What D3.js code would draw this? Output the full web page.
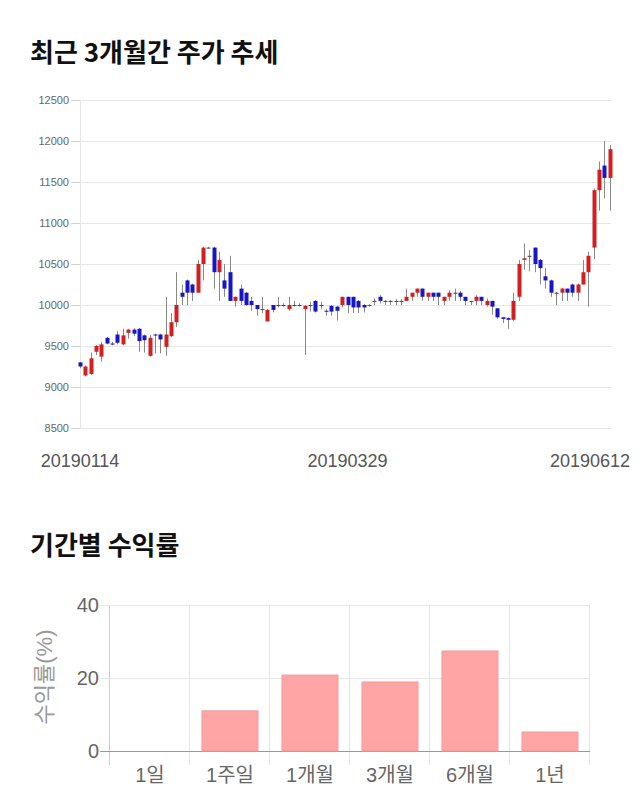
<!DOCTYPE html>
<html><head><meta charset="utf-8">
<script src="https://cdn.jsdelivr.net/npm/d3@7"></script>
<style>body{margin:0;background:#fff}</style>
</head><body>
<svg id="c" width="640" height="810"></svg>
<script>
// ---- candlestick data (daily, 20190114 .. 20190612) ----
const openP  = [9300,9140,9160,9430,9370,9600,9530,9640,9520,9660,
  9700,9710,9630,9380,9640,9640,9490,9620,9790,10150,
  10300,10250,10150,10500,10700,10700,10400,10300,10400,10050,
  10200,10150,10050,10000,9950,9800,10000,10000,10000,9950,
  10000,10000,9950,10000,10050,10000,9930,9990,9980,10000,
  10100,10100,10050,10000,9990,10050,10100,10050,10050,10050,
  10050,10050,10100,10150,10200,10100,10150,10150,10050,10100,
  10150,10150,10100,10050,10050,10100,10000,10050,9960,9850,
  9840,9820,10100,10550,10600,10700,10550,10350,10300,10150,
  10150,10200,10250,10150,10250,10400,10700,11400,11700,11550];
const highP  = [9300,9260,9420,9510,9550,9610,9550,9680,9710,9710,
  9720,9720,9640,9630,9650,9650,10100,9900,10400,10250,
  10310,10260,10550,10710,10710,10710,10650,10500,10600,10100,
  10250,10160,10100,10000,10100,9950,10000,10100,10020,10100,
  10050,10020,10000,10040,10060,10040,9950,10000,9990,10100,
  10100,10100,10060,10010,10010,10080,10120,10060,10060,10070,
  10070,10200,10150,10200,10200,10150,10150,10150,10100,10180,
  10200,10170,10100,10050,10120,10100,10080,10050,9960,9850,
  9850,10150,10550,10750,10670,10700,10560,10450,10310,10160,
  10210,10200,10260,10260,10550,10650,11420,11750,12000,11950];
const lowP   = [9230,9130,9150,9390,9310,9520,9510,9520,9510,9590,
  9620,9430,9420,9370,9410,9410,9380,9610,9730,10000,
  10000,10050,10150,10300,10690,10200,10050,10100,10050,9980,
  10000,9990,9930,9870,9900,9800,9910,9970,9980,9930,
  9980,9980,9390,9920,9910,9950,9870,9870,9810,9970,
  9900,9900,9900,9910,9980,10000,10020,10000,10000,10000,
  10000,10050,10050,10100,10050,10050,10050,10000,10000,10050,
  10050,10050,10000,10000,10000,10000,9980,9880,9830,9780,
  9710,9800,10050,10430,10410,10400,10250,10200,10100,10000,
  10050,10050,10100,10050,10250,9980,10560,11150,11300,11150];
const closeP = [9250,9250,9350,9500,9520,9530,9520,9540,9630,9700,
  9650,9560,9570,9600,9630,9580,9640,9790,10000,10100,
  10150,10150,10500,10700,10700,10400,10550,10200,10050,10100,
  10050,10000,10000,9950,9950,9940,9940,10000,10000,10000,
  10000,10000,9990,10000,9920,10000,9920,9920,9930,10100,
  10000,9970,9970,9970,10000,10050,10050,10050,10050,10050,
  10050,10100,10150,10200,10100,10150,10100,10100,10100,10150,
  10150,10100,10050,10050,10100,10050,10050,9980,9850,9830,
  9820,10050,10500,10570,10600,10500,10450,10300,10150,10150,
  10200,10150,10150,10250,10400,10600,11400,11650,11550,11900];
const priceTicks = [8500,9000,9500,10000,10500,11000,11500,12000,12500];
const dateTickIndex = [0, 50, 99];
const dateTickLabels = ["20190114","20190329","20190612"];

// ---- period returns ----
const periods = ["1일","1주일","1개월","3개월","6개월","1년"];
const returns = [0, 11.0, 20.8, 18.9, 27.4, 5.2];
const returnTicks = [0, 20, 40];

const svg = d3.select("#c");
const numFont = "'Liberation Sans', Arial, 'Noto Sans CJK KR', sans-serif";
const krFont = "'Noto Sans CJK KR', 'Noto Sans', sans-serif";

// titles
svg.append("text").attr("x", 30).attr("y", 62).text("최근 3개월간 주가 추세")
  .attr("font-family", krFont).attr("font-weight", 700).attr("font-size", 26).attr("fill", "#111");
svg.append("text").attr("x", 30).attr("y", 555).text("기간별 수익률")
  .attr("font-family", krFont).attr("font-weight", 700).attr("font-size", 26).attr("fill", "#111");

// ---- candlestick chart ----
const n = openP.length;
const x = d3.scaleLinear().domain([0, n - 1]).range([80, 609.7]);
const y = d3.scaleLinear().domain([8500, 12500]).range([428, 100]);

const g1 = svg.append("g");
g1.selectAll("line.grid").data(priceTicks).join("line")
  .attr("x1", 80).attr("x2", 611).attr("y1", d => y(d)).attr("y2", d => y(d))
  .attr("stroke", "#e6e6e6").attr("stroke-width", 1).attr("shape-rendering", "crispEdges");
g1.selectAll("line.tick").data(priceTicks).join("line")
  .attr("x1", 71).attr("x2", 80).attr("y1", d => y(d)).attr("y2", d => y(d))
  .attr("stroke", "#d0d0d0").attr("stroke-width", 1).attr("shape-rendering", "crispEdges");
g1.append("line").attr("x1", 80).attr("x2", 80).attr("y1", y(12500)).attr("y2", y(8500))
  .attr("stroke", "#e6e6e6").attr("shape-rendering", "crispEdges");
g1.selectAll("text.yl").data(priceTicks).join("text")
  .attr("x", 69).attr("y", d => y(d) + 4).attr("text-anchor", "end")
  .attr("font-family", numFont).attr("font-size", 11).attr("fill", "#666")
  .text(d => d);

const idx = d3.range(n);
const colorOf = i => closeP[i] > openP[i] ? "#d21f1f" : (closeP[i] < openP[i] ? "#1616c8" : "#444");
g1.selectAll("line.wick").data(idx).join("line")
  .attr("x1", i => Math.round(x(i)) + 0.5).attr("x2", i => Math.round(x(i)) + 0.5)
  .attr("y1", i => y(highP[i])).attr("y2", i => y(lowP[i]))
  .attr("stroke", "#888").attr("stroke-width", 1);
g1.selectAll("rect.body").data(idx).join("rect")
  .attr("x", i => Math.round(x(i)) - 1.5).attr("width", 4)
  .attr("y", i => y(Math.max(openP[i], closeP[i])))
  .attr("height", i => Math.max(1, y(Math.min(openP[i], closeP[i])) - y(Math.max(openP[i], closeP[i]))))
  .attr("fill", colorOf);

// date labels
dateTickIndex.forEach((di, k) => {
  const t = g1.append("text").attr("y", 467).attr("text-anchor", "middle")
    .attr("font-family", numFont).attr("font-size", 18).attr("fill", "#555")
    .text(dateTickLabels[k]);
  const w = t.node().getComputedTextLength();
  let cx = x(di);
  cx = Math.min(cx, 630 - w / 2);
  t.attr("x", cx);
});

// ---- returns bar chart ----
const xb = d3.scaleBand().domain(periods).range([110, 590]).paddingInner(0.3).paddingOuter(0.15);
const yb = d3.scaleLinear().domain([0, 40]).range([751, 605]);
const g2 = svg.append("g");
const step = xb.step();
const left = 110;
g2.selectAll("line.vg").data(d3.range(periods.length + 1)).join("line")
  .attr("x1", k => left + k * step - 0.5).attr("x2", k => left + k * step - 0.5)
  .attr("y1", yb(40)).attr("y2", 765)
  .attr("stroke", k => k === 0 ? "#ccc" : "#e6e6e6").attr("stroke-width", 1)
  .attr("shape-rendering", "crispEdges");
g2.selectAll("line.hg").data(returnTicks).join("line")
  .attr("x1", 100).attr("x2", 590).attr("y1", d => yb(d)).attr("y2", d => yb(d))
  .attr("stroke", d => d === 0 ? "#999" : "#e6e6e6").attr("stroke-width", 1)
  .attr("shape-rendering", "crispEdges");
g2.selectAll("text.yl").data(returnTicks).join("text")
  .attr("x", 99).attr("y", d => yb(d) + 7).attr("text-anchor", "end")
  .attr("font-family", numFont).attr("font-size", 20).attr("fill", "#666")
  .text(d => d);
g2.selectAll("rect.bar").data(periods).join("rect")
  .attr("x", d => xb(d)).attr("width", xb.bandwidth())
  .attr("y", (d, i) => yb(returns[i])).attr("height", (d, i) => yb(0) - yb(returns[i]))
  .attr("fill", "#ffa5a5").attr("stroke", "#f29a9a").attr("stroke-width", 1);
g2.selectAll("text.xl").data(periods).join("text")
  .attr("x", d => xb(d) + xb.bandwidth() / 2).attr("y", 782).attr("text-anchor", "middle")
  .attr("font-family", numFont).attr("font-size", 20).attr("fill", "#666")
  .text(d => d);
svg.append("text").attr("transform", "translate(52,677) rotate(-90)")
  .attr("text-anchor", "middle").attr("font-family", numFont).attr("font-size", 22)
  .attr("fill", "#999").text("수익률(%)");
</script>
</body></html>
